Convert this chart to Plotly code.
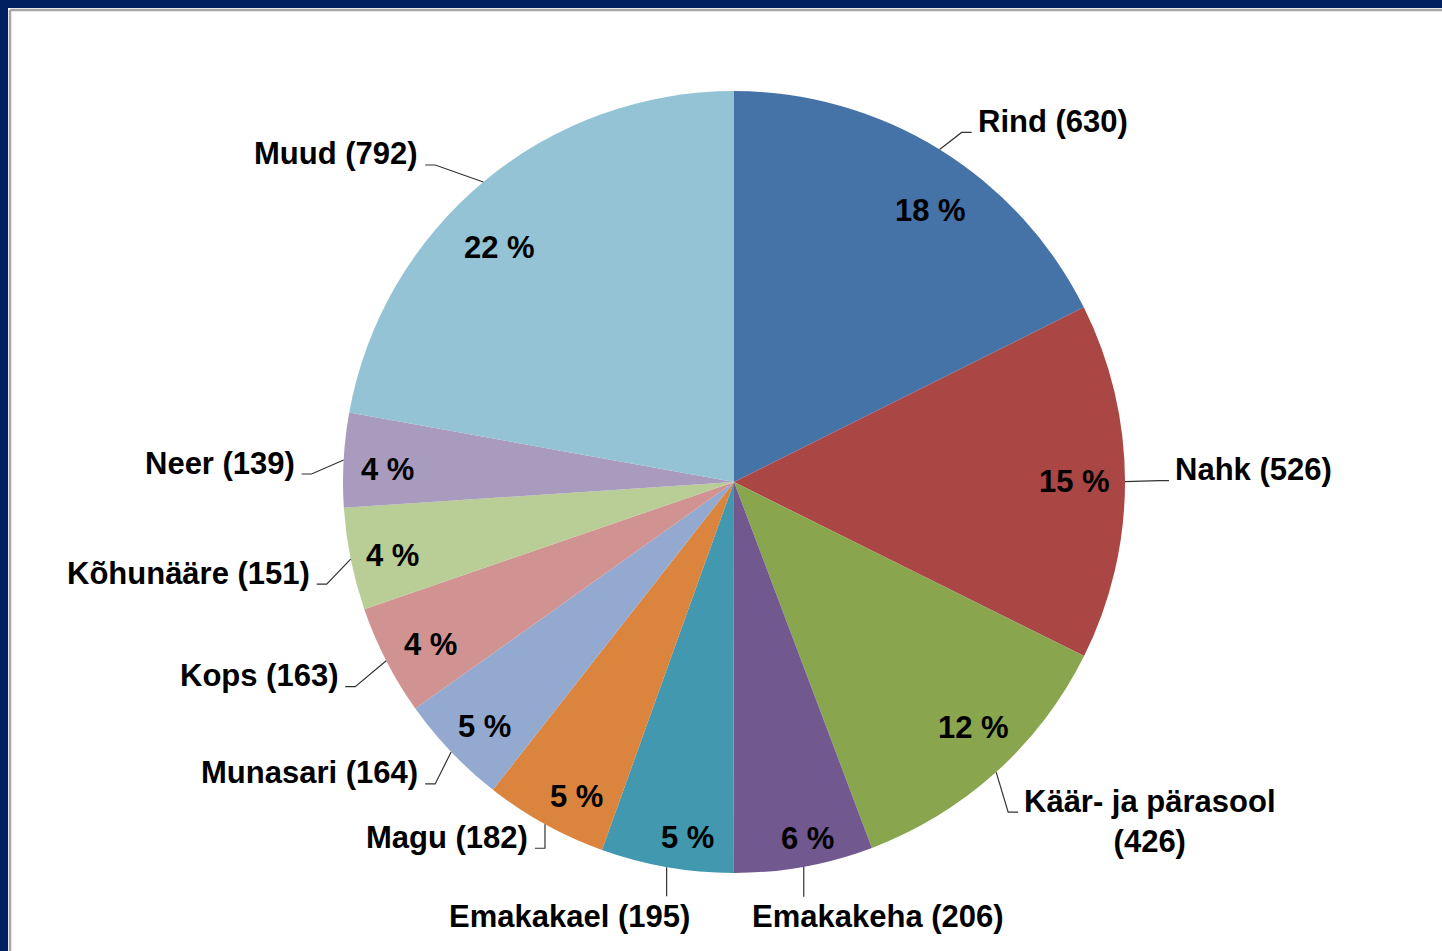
import math
import plotly.graph_objects as go

# ---------------- data ----------------
categories = ["Rind", "Nahk", "Käär- ja pärasool", "Emakakeha", "Emakakael", "Magu",
              "Munasari", "Kops", "Kõhunääre", "Neer", "Muud"]
counts = [630, 526, 426, 206, 195, 182, 164, 163, 151, 139, 792]
percent_labels = ["18 %", "15 %", "12 %", "6 %", "5 %", "5 %", "5 %", "4 %", "4 %", "4 %", "22 %"]
colors = ["#4572A7", "#AA4643", "#89A54E", "#71588F", "#4198AF", "#DB843D",
          "#93A9CF", "#D19392", "#B9CD96", "#A99BBD", "#93C3D4"]

# ---------------- layout constants ----------------
W, H = 1442, 951
CX, CY, R = 734, 482, 391          # pie centre / radius in pixels
FONT = "Liberation Sans, Arial, sans-serif"
FS = 31

# label placement (offset from slice edge point in px), anchor, leader style
label_offsets = [(36, -28), (48, -12), (26, 49), (74, 50), (-97, 49), (-15, 13),
                 (-31, 21), (-46, 15), (-39, 14), (-47, 3), (-63, -28)]
label_anchor = ["left", "left", "left", "center", "center", "right",
                "right", "right", "right", "right", "right"]
label_wrap = [False, False, True, False, False, False, False, False, False, False, False]
stub_dy = [11, 11, -9, 0, 0, 11, 11, 11, 11, 11, 11]
# percentage label placement: (angle shift in degrees, radius factor)
pct_pos = [(4.1, 0.857), (0.0, 0.872), (-2.1, 0.877), (-1.4, 0.93), (-2.4, 0.916),
           (-2.3, 0.90), (-0.8, 0.893), (-0.9, 0.88), (-0.7, 0.893), (-1.1, 0.888),
           (-5.1, 0.847)]


def px(x):
    return x / W


def py(y):
    return 1 - y / H


fig = go.Figure()
fig.add_trace(go.Pie(
    labels=categories,
    values=counts,
    sort=False,
    direction="clockwise",
    rotation=0,
    marker=dict(colors=colors, line=dict(width=0)),
    textinfo="none",
    hoverinfo="label+value+percent",
    showlegend=False,
    domain=dict(x=[px(CX - R), px(CX + R)], y=[py(CY + R), py(CY - R)]),
))

shapes = [
    # white chart area with grey frame over navy background
    dict(type="rect", xref="paper", yref="paper", x0=px(8), x1=1.05, y0=-0.05, y1=py(8),
         fillcolor="white", line=dict(width=0), layer="below"),
    dict(type="line", xref="paper", yref="paper", x0=px(10), x1=px(10), y0=-0.05, y1=py(10),
         line=dict(color="#A6A6A6", width=2.5), layer="below"),
    dict(type="line", xref="paper", yref="paper", x0=px(10), x1=1.05, y0=py(10), y1=py(10),
         line=dict(color="#A6A6A6", width=2.5), layer="below"),
]
annotations = []

total = sum(counts)
cum = 0
for i, (cat, val) in enumerate(zip(categories, counts)):
    mid = (cum + val / 2) / total * 2 * math.pi
    cum += val
    sx, sy = math.sin(mid), -math.cos(mid)
    ex, ey = CX + R * sx, CY + R * sy

    # percentage inside
    da, rf = pct_pos[i]
    a = mid + math.radians(da)
    rp = rf * R
    annotations.append(dict(
        x=px(CX + rp * math.sin(a)), y=py(CY - rp * math.cos(a)), xref="paper", yref="paper",
        text=percent_labels[i], showarrow=False, xanchor="center", yanchor="middle",
        font=dict(family=FONT, size=FS, color="black", weight="bold"),
    ))

    # outside label
    dx, dy = label_offsets[i]
    tx, ty = ex + dx, ey + dy
    txt = f"{cat}<br>({val})" if label_wrap[i] else f"{cat} ({val})"
    annotations.append(dict(
        x=px(tx), y=py(ty), xref="paper", yref="paper",
        text=txt, showarrow=False, xanchor=label_anchor[i], yanchor="middle",
        align="center",
        font=dict(family=FONT, size=FS, color="black", weight="bold"),
    ))

    # leader line
    if label_anchor[i] == "center":
        pts = [(ex, ey), (ex, ty - 20)]
    elif label_anchor[i] == "left":
        endx, endy = tx - 4, ty + stub_dy[i]
        pts = [(ex, ey), (endx - 10, endy), (endx, endy)]
    else:
        endx, endy = tx + 5, ty + stub_dy[i]
        pts = [(ex, ey), (endx + 10, endy), (endx, endy)]
    path = "M " + " L ".join(f"{px(a):.5f},{py(b):.5f}" for a, b in pts)
    shapes.append(dict(type="path", xref="paper", yref="paper", path=path,
                       line=dict(color="#333333", width=1.2)))

fig.update_layout(
    width=W, height=H,
    margin=dict(l=0, r=0, t=0, b=0),
    paper_bgcolor="#002060",
    shapes=shapes,
    annotations=annotations,
)

fig.write_html(
    "out.html",
    config={"displayModeBar": False},
    post_script="document.body.style.margin='0px';document.body.style.overflow='hidden';"
                "document.body.style.background='#002060';",
)
